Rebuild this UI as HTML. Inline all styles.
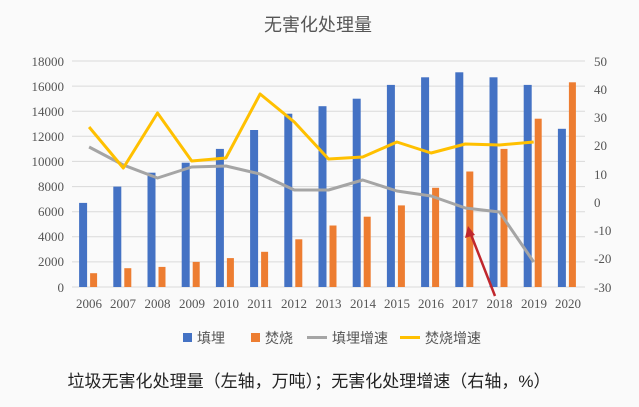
<!DOCTYPE html>
<html><head><meta charset="utf-8"><style>
html,body{margin:0;padding:0;background:#fff;}
svg{display:block;font-family:"Liberation Serif","Noto Serif CJK SC",serif;}
</style></head><body>
<svg width="639" height="407" viewBox="0 0 639 407" xmlns="http://www.w3.org/2000/svg">
<rect width="639" height="407" fill="#fafafa"/>
<text x="318" y="31" font-size="18" fill="#555" text-anchor="middle" font-family="Liberation Sans,Noto Sans CJK SC,sans-serif">无害化处理量</text>
<g stroke="#d9d9d9" stroke-width="1">
<line x1="72" x2="585" y1="61" y2="61"/><line x1="72" x2="585" y1="86.1" y2="86.1"/><line x1="72" x2="585" y1="111.2" y2="111.2"/><line x1="72" x2="585" y1="136.3" y2="136.3"/><line x1="72" x2="585" y1="161.4" y2="161.4"/><line x1="72" x2="585" y1="186.6" y2="186.6"/><line x1="72" x2="585" y1="211.7" y2="211.7"/><line x1="72" x2="585" y1="236.8" y2="236.8"/><line x1="72" x2="585" y1="261.9" y2="261.9"/><line x1="72" x2="585" y1="287" y2="287"/>
</g>
<g font-size="13" fill="#555" text-anchor="end">
<text x="64" y="66">18000</text><text x="64" y="91">16000</text><text x="64" y="116">14000</text><text x="64" y="141">12000</text><text x="64" y="166">10000</text><text x="64" y="191">8000</text><text x="64" y="216">6000</text><text x="64" y="241">4000</text><text x="64" y="266">2000</text><text x="64" y="292">0</text>
</g>
<g font-size="13" fill="#555" text-anchor="start">
<text x="594" y="66">50</text><text x="594" y="94">40</text><text x="594" y="122">30</text><text x="594" y="150">20</text><text x="594" y="179">10</text><text x="594" y="207">0</text><text x="594" y="235">-10</text><text x="594" y="263">-20</text><text x="594" y="292">-30</text>
</g>
<g fill="#4472c4">
<rect x="79.1" y="202.9" width="8" height="84.1"/><rect x="113.3" y="186.6" width="8" height="100.4"/><rect x="147.5" y="172.7" width="8" height="114.3"/><rect x="181.7" y="162.7" width="8" height="124.3"/><rect x="215.9" y="148.9" width="8" height="138.1"/><rect x="250.1" y="130" width="8" height="157"/><rect x="284.3" y="113.7" width="8" height="173.3"/><rect x="318.5" y="106.2" width="8" height="180.8"/><rect x="352.7" y="98.7" width="8" height="188.3"/><rect x="386.9" y="84.9" width="8" height="202.1"/><rect x="421.1" y="77.3" width="8" height="209.7"/><rect x="455.3" y="72.3" width="8" height="214.7"/><rect x="489.5" y="77.3" width="8" height="209.7"/><rect x="523.7" y="84.9" width="8" height="202.1"/><rect x="557.9" y="128.8" width="8" height="158.2"/>
</g>
<g fill="#ed7d31">
<rect x="90.1" y="273.2" width="7" height="13.8"/><rect x="124.3" y="268.2" width="7" height="18.8"/><rect x="158.5" y="266.9" width="7" height="20.1"/><rect x="192.7" y="261.9" width="7" height="25.1"/><rect x="226.9" y="258.1" width="7" height="28.9"/><rect x="261.1" y="251.8" width="7" height="35.2"/><rect x="295.3" y="239.3" width="7" height="47.7"/><rect x="329.5" y="225.5" width="7" height="61.5"/><rect x="363.7" y="216.7" width="7" height="70.3"/><rect x="397.9" y="205.4" width="7" height="81.6"/><rect x="432.1" y="187.8" width="7" height="99.2"/><rect x="466.3" y="171.5" width="7" height="115.5"/><rect x="500.5" y="148.9" width="7" height="138.1"/><rect x="534.7" y="118.7" width="7" height="168.3"/><rect x="568.9" y="82.3" width="7" height="204.7"/>
</g>
<polyline fill="none" stroke="#a5a5a5" stroke-width="3" stroke-linejoin="round" points="89.1,147 123.3,165 157.5,178 191.7,167 225.9,166 260.1,174 294.3,190 328.5,190 362.7,180 396.9,191 431.1,196 465.3,208 499.5,212 533.7,262"/>
<polyline fill="none" stroke="#ffc000" stroke-width="3" stroke-linejoin="round" points="89.1,127 123.3,168 157.5,113 191.7,161 225.9,158 260.1,94 294.3,122 328.5,159 362.7,157 396.9,142 431.1,153 465.3,144 499.5,145 533.7,142"/>
<g font-size="13" fill="#555" text-anchor="middle">
<text x="89" y="308">2006</text><text x="123" y="308">2007</text><text x="157.5" y="308">2008</text><text x="192" y="308">2009</text><text x="226" y="308">2010</text><text x="260" y="308">2011</text><text x="294" y="308">2012</text><text x="328.5" y="308">2013</text><text x="363" y="308">2014</text><text x="397" y="308">2015</text><text x="431" y="308">2016</text><text x="465" y="308">2017</text><text x="499.5" y="308">2018</text><text x="534" y="308">2019</text><text x="568" y="308">2020</text>
</g>
<line x1="495" y1="296" x2="470" y2="232" stroke="#c0272d" stroke-width="2.5"/>
<polygon points="468,226 465,238 475,235" fill="#c0272d"/>
<g font-size="14" fill="#555" font-family="Liberation Sans,Noto Sans CJK SC,sans-serif">
<rect x="183" y="333" width="9" height="9" fill="#4472c4"/><text x="197" y="343">填埋</text>
<rect x="251" y="333" width="9" height="9" fill="#ed7d31"/><text x="265" y="343">焚烧</text>
<line x1="307" x2="327" y1="337.5" y2="337.5" stroke="#a5a5a5" stroke-width="3"/><text x="332" y="343">填埋增速</text>
<line x1="400" x2="420" y1="337.5" y2="337.5" stroke="#ffc000" stroke-width="3"/><text x="425" y="343">焚烧增速</text>
</g>
<text x="309" y="387" font-size="17" fill="#222" text-anchor="middle" textLength="483" lengthAdjust="spacingAndGlyphs" font-family="Liberation Sans,Noto Sans CJK SC,sans-serif">垃圾无害化处理量（左轴，万吨）；无害化处理增速（右轴，%）</text>
</svg>
</body></html>
